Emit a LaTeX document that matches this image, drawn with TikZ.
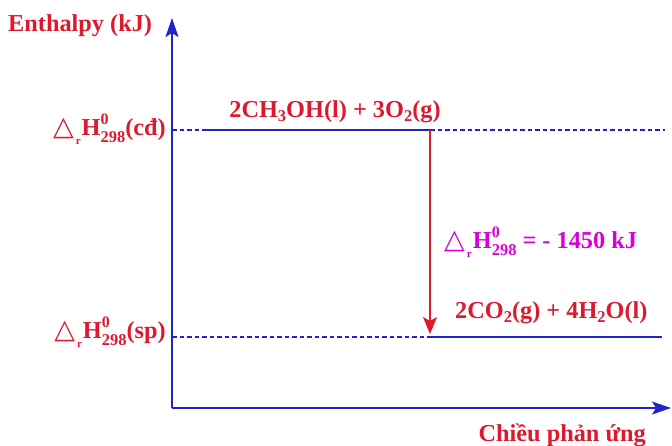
\documentclass[tikz,border=0pt]{standalone}
\usepackage{fontspec}
\setmainfont{Liberation Serif}
\newfontfamily\symfont{DejaVu Sans}
\usetikzlibrary{arrows.meta}
\definecolor{ered}{RGB}{220,25,45}
\definecolor{eblue}{RGB}{35,35,205}
\definecolor{emag}{RGB}{215,0,215}
\newcommand{\dH}{{\symfont\fontsize{27}{27}\selectfont △}\hspace{2pt}\raisebox{-9pt}{\fontsize{11}{11}\selectfont r}\hspace{1pt}H\rlap{\raisebox{11pt}{\fontsize{16}{16}\selectfont 0}}\raisebox{-7pt}{\fontsize{16.5}{16.5}\selectfont 298}}
\newcommand{\sub}[1]{\raisebox{-4pt}{\fontsize{16.5}{16.5}\selectfont #1}}
\begin{document}
\begin{tikzpicture}[x=1pt,y=-1pt,
  lbl/.style={font=\bfseries\fontsize{24.3}{24}\selectfont, text=ered, inner sep=0pt},
  axis/.style={eblue, line width=1.4pt, -{Stealth[length=19pt,width=13pt,inset=4pt]}},
  lvl/.style={eblue, line width=1.2pt},
  dsh/.style={eblue, line width=1.2pt, dash pattern=on 4.5pt off 3pt}]
\useasboundingbox (0,0) rectangle (672,445);
\coordinate (O) at (172,408);
\coordinate (Ytop) at (172,18);
\coordinate (Xend) at (671,408);
\draw[axis] (O) -- (Ytop);
\draw[axis] (O) -- (Xend);
% levels
\coordinate (t0) at (172,130);
\coordinate (t1) at (205,130);
\coordinate (t2) at (430,130);
\coordinate (t3) at (665,130);
\coordinate (b0) at (172,337);
\coordinate (b1) at (430,337);
\coordinate (b2) at (662,337);
\draw[dsh] (t0) -- (t1);
\draw[lvl] (t1) -- (t2);
\draw[dsh] (t2) -- (t3);
\draw[dsh] (b0) -- (b1);
\draw[lvl] (b1) -- (b2);
\draw[ered, line width=1.2pt, -{Stealth[length=17pt,width=14pt,inset=4pt]}, shorten >=3pt] (t2) -- (b1);
% labels
\node[lbl, anchor=base west] (ylab) at (8,31) {Enthalpy (kJ)};
\node[lbl, anchor=base east] (cd) at (166,135) {\dH(cđ)};
\node[lbl, anchor=base east] (sp) at (166,338) {\dH(sp)};
\node[lbl, anchor=base] (react) at (335,117) {2CH\sub{3}OH(l) + 3O\sub{2}(g)};
\node[lbl, text=emag, anchor=base west] (dh) at (444,248) {\dH{} = - 1450 kJ};
\node[lbl, anchor=base west] (prod) at (455,318) {2CO\sub{2}(g) + 4H\sub{2}O(l)};
\node[lbl, anchor=base east] (xlab) at (646,441) {Chiều phản ứng};
\end{tikzpicture}
\end{document}
